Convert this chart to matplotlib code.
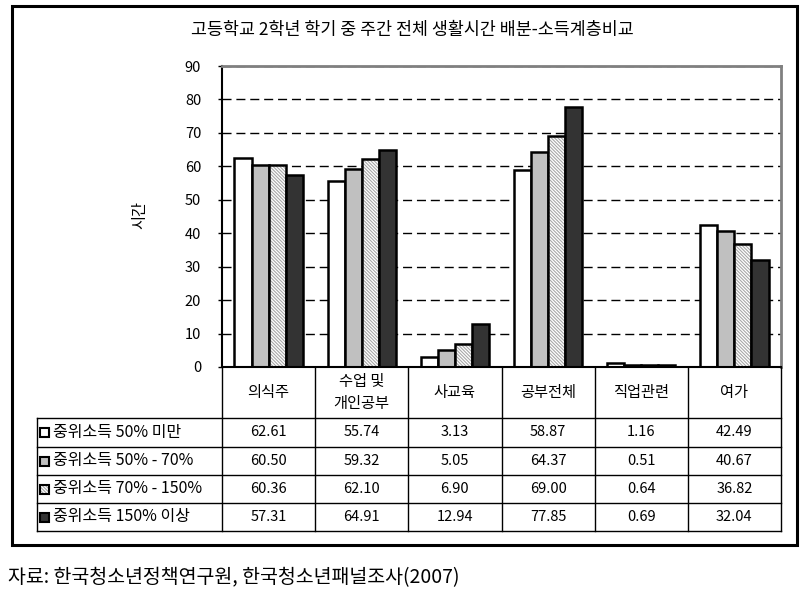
import numpy as np
import matplotlib.pyplot as plt
from matplotlib.lines import Line2D
from matplotlib.patches import Rectangle

plt.rcParams['font.family'] = ['Noto Sans CJK KR', 'DejaVu Sans']
plt.rcParams['hatch.linewidth'] = 0.8

title = '고등학교 2학년 학기 중 주간 전체 생활시간 배분-소득계층비교'
categories = ['의식주', '수업 및\n개인공부', '사교육', '공부전체', '직업관련', '여가']
series_names = ['중위소득 50% 미만', '중위소득 50% - 70%', '중위소득 70% - 150%', '중위소득 150% 이상']
low = [62.61, 55.74, 3.13, 58.87, 1.16, 42.49]
mid_low = [60.50, 59.32, 5.05, 64.37, 0.51, 40.67]
mid_high = [60.36, 62.10, 6.90, 69.00, 0.64, 36.82]
high = [57.31, 64.91, 12.94, 77.85, 0.69, 32.04]
series = [low, mid_low, mid_high, high]
yticks = list(range(0, 91, 10))

fills = ['white', '#c0c0c0', 'white', '#333333']
hatches = [None, None, '\\' * 10, None]

W, H = 810, 597
fig = plt.figure(figsize=(W / 100, H / 100), dpi=100)


def fx(x):
    return x / W


def fy(y):
    return 1 - y / H


left, right, top, bottom = 222, 781, 66, 367
ax = fig.add_axes([fx(left), fy(bottom), fx(right) - fx(left), fy(top) - fy(bottom)])

x = np.arange(len(categories))
w = 0.183
for i, vals in enumerate(series):
    pos = x + (i - 1.5) * w
    if hatches[i]:
        ax.bar(pos, vals, w, color='white', edgecolor='#a8a8a8', hatch=hatches[i], lw=0, zorder=3)
        ax.bar(pos, vals, w, fill=False, edgecolor='black', lw=1.8, zorder=3)
    else:
        ax.bar(pos, vals, w, color=fills[i], edgecolor='black', lw=1.8, zorder=3)

ax.set_xlim(-0.5, len(categories) - 0.5)
ax.set_ylim(0, 90)
ax.set_yticks(yticks)
ax.set_xticks([])
ax.yaxis.grid(True, color='black', lw=1, linestyle=(0, (6.5, 3.5)))
ax.set_axisbelow(True)
ax.tick_params(axis='y', direction='out', length=3, width=1, pad=12, labelsize=10.5)
for s in ['left', 'bottom']:
    ax.spines[s].set_linewidth(1.5)
    ax.spines[s].set_zorder(4)
for s in ['top', 'right']:
    ax.spines[s].set_color('#808080')
    ax.spines[s].set_linewidth(2)
    ax.spines[s].set_zorder(4)

fig.text(fx(140), fy(215), '시간', rotation=90, ha='center', va='center', fontsize=11)
fig.text(fx(412), fy(30), title, ha='center', va='center', fontsize=12.5)

# table under the chart
col_edges = left + np.arange(len(categories) + 1) * (right - left) / len(categories)
row_edges = [418, 447, 475, 503, 531]
tab_left = 37


def line(x0, y0, x1, y1, lw=1.0):
    fig.add_artist(Line2D([fx(x0), fx(x1)], [fy(y0), fy(y1)], color='black', lw=lw))


for ce in col_edges:
    line(ce, bottom, ce, row_edges[-1])
line(tab_left, row_edges[0], tab_left, row_edges[-1])
for re_ in row_edges:
    line(tab_left, re_, right, re_)

for j, cat in enumerate(categories):
    cx = (col_edges[j] + col_edges[j + 1]) / 2
    fig.text(fx(cx), fy((bottom + row_edges[0]) / 2), cat, ha='center', va='center',
             fontsize=11, linespacing=1.4)

for i, vals in enumerate(series):
    cy = (row_edges[i] + row_edges[i + 1]) / 2
    sq = 9
    if hatches[i]:
        fig.add_artist(Rectangle((fx(40), fy(cy + sq / 2)), fx(sq), sq / H, facecolor='white',
                                 edgecolor='#a8a8a8', hatch=hatches[i], lw=0))
        fig.add_artist(Rectangle((fx(40), fy(cy + sq / 2)), fx(sq), sq / H, fill=False,
                                 edgecolor='black', lw=1.5))
    else:
        fig.add_artist(Rectangle((fx(40), fy(cy + sq / 2)), fx(sq), sq / H, facecolor=fills[i],
                                 edgecolor='black', lw=1.5))
    fig.text(fx(53), fy(cy), series_names[i], ha='left', va='center', fontsize=11.5)
    for j, v in enumerate(vals):
        cx = (col_edges[j] + col_edges[j + 1]) / 2
        fig.text(fx(cx), fy(cy), f'{v:.2f}', ha='center', va='center', fontsize=10.5)

# outer frame
fig.add_artist(Rectangle((fx(12), fy(545)), fx(797) - fx(12), fy(6) - fy(545),
                         fill=False, edgecolor='black', lw=2.2))

fig.text(fx(8), fy(578), '자료: 한국청소년정책연구원, 한국청소년패널조사(2007)', ha='left', va='center',
         fontsize=14)

fig.savefig('out.png', dpi=100)
